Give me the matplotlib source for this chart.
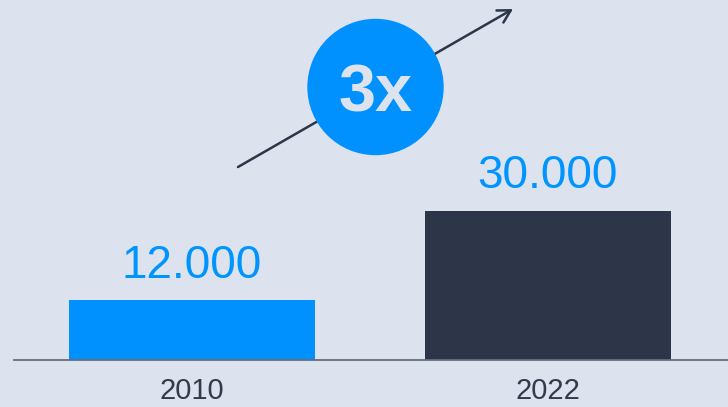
import matplotlib.pyplot as plt
from matplotlib.patches import Circle

plt.rcParams["font.family"] = ["Liberation Sans", "DejaVu Sans"]

years = ["2010", "2022"]
values = [12000, 30000]
value_labels = ["12.000", "30.000"]
bar_colors = ["#0091ff", "#2d3549"]
growth_label = "3x"

bg = "#dce3ef"
W, H = 728, 407

fig = plt.figure(figsize=(W / 100, H / 100), dpi=100)
fig.patch.set_facecolor(bg)

# main axes: baseline at y=360px, left edge at x=14px
base_px = 360
ax = fig.add_axes([14 / W, (H - base_px) / H, 1 - 14 / W, base_px / H])
ax.set_facecolor(bg)
x = range(len(years))
ax.bar(x, values, width=0.69, color=bar_colors, zorder=2)
ax.set_xlim(-0.5, 1.506)
ax.set_ylim(0, 30000 * base_px / 149)

for xi, v, lab in zip(x, values, value_labels):
    ax.annotate(lab, (xi, v), xytext=(0, 9), textcoords="offset points",
                ha="center", va="bottom", fontsize=33, color="#0094ff")

ax.set_xticks(list(x))
ax.set_xticklabels(years, fontsize=21, color="#333a4b")
ax.tick_params(axis="x", length=0, pad=12)
ax.set_yticks([])
for s in ["top", "right", "left"]:
    ax.spines[s].set_visible(False)
ax.spines["bottom"].set_color("#666d7c")
ax.spines["bottom"].set_linewidth(1.3)

# overlay for the growth arrow and badge (pixel coords, y down)
ov = fig.add_axes([0, 0, 1, 1])
ov.set_xlim(0, W)
ov.set_ylim(H, 0)
ov.axis("off")
ov.patch.set_alpha(0)
ov.annotate("", xy=(513, 9), xytext=(238, 167),
            arrowprops=dict(arrowstyle="->,head_length=0.9,head_width=0.5",
                            color="#2d3549", lw=1.8, shrinkA=0, shrinkB=0))
ov.add_patch(Circle((375.5, 87), 67.5, color="#0091ff", zorder=3))
ov.text(376, 95, growth_label, ha="center", va="center", fontsize=48,
        fontweight="bold", color="#dce3ef", zorder=4)

fig.savefig("out.png", dpi=100, facecolor=bg)
